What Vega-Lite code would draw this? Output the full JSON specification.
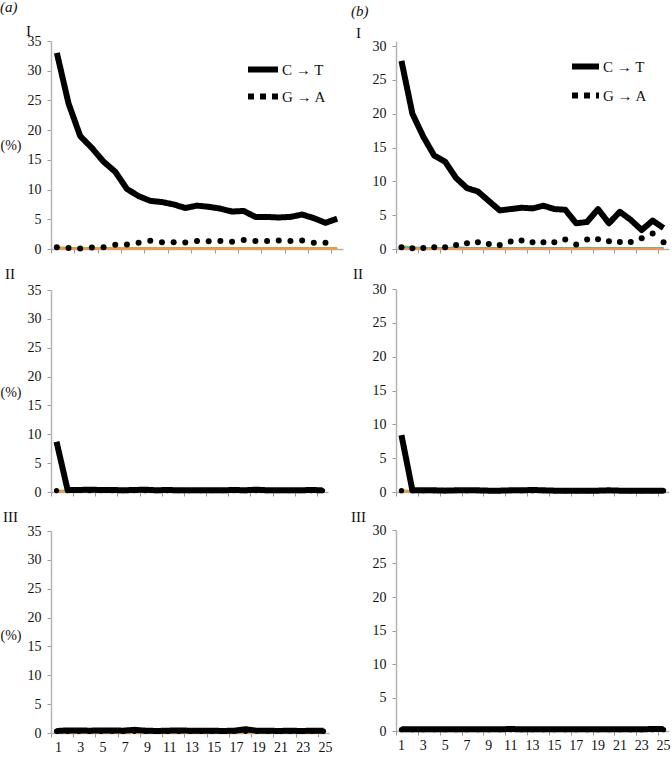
{
"$schema": "https://vega.github.io/schema/vega-lite/v6.json",
"padding": {"left": 0, "top": 0, "right": 2, "bottom": 1},
"background": "white",
"config": {
  "view": {"stroke": null},
  "style": {"guide-label": {"font": "Liberation Serif", "fill": "#111"}, "guide-title": {"font": "Liberation Serif", "fill": "#111"}, "group-title": {"font": "Liberation Serif"}},
  "axis": {"grid": false, "domainColor": "#b4b4b4", "domainWidth": 1.5, "tickColor": "#9a9a9a", "tickSize": 4, "labelFont": "Liberation Serif", "labelFontSize": 14, "labelColor": "#111", "titleFont": "Liberation Serif", "titleFontWeight": "normal", "titleFontSize": 14, "titleColor": "#111"},
  "title": {"font": "Liberation Serif", "fontWeight": "normal", "fontSize": 15, "anchor": "start", "color": "#111"},
  "legend": {"labelFont": "Liberation Serif"}
},
"data": {"values": [
{"p":"aI","s":"C → T","x":1,"y":33},{"p":"aI","s":"C → T","x":2,"y":24.5},{"p":"aI","s":"C → T","x":3,"y":19},{"p":"aI","s":"C → T","x":4,"y":17},{"p":"aI","s":"C → T","x":5,"y":14.7},{"p":"aI","s":"C → T","x":6,"y":13},{"p":"aI","s":"C → T","x":7,"y":10.1},{"p":"aI","s":"C → T","x":8,"y":8.9},{"p":"aI","s":"C → T","x":9,"y":8.1},{"p":"aI","s":"C → T","x":10,"y":7.9},{"p":"aI","s":"C → T","x":11,"y":7.5},{"p":"aI","s":"C → T","x":12,"y":6.9},{"p":"aI","s":"C → T","x":13,"y":7.3},{"p":"aI","s":"C → T","x":14,"y":7.1},{"p":"aI","s":"C → T","x":15,"y":6.8},{"p":"aI","s":"C → T","x":16,"y":6.3},{"p":"aI","s":"C → T","x":17,"y":6.4},{"p":"aI","s":"C → T","x":18,"y":5.4},{"p":"aI","s":"C → T","x":19,"y":5.4},{"p":"aI","s":"C → T","x":20,"y":5.3},{"p":"aI","s":"C → T","x":21,"y":5.4},{"p":"aI","s":"C → T","x":22,"y":5.8},{"p":"aI","s":"C → T","x":23,"y":5.2},{"p":"aI","s":"C → T","x":24,"y":4.4},{"p":"aI","s":"C → T","x":25,"y":5.1},
{"p":"aI","s":"G → A","x":1,"y":0.3},{"p":"aI","s":"G → A","x":2,"y":0.15},{"p":"aI","s":"G → A","x":3,"y":0.1},{"p":"aI","s":"G → A","x":4,"y":0.25},{"p":"aI","s":"G → A","x":5,"y":0.3},{"p":"aI","s":"G → A","x":6,"y":0.7},{"p":"aI","s":"G → A","x":7,"y":0.75},{"p":"aI","s":"G → A","x":8,"y":1.05},{"p":"aI","s":"G → A","x":9,"y":1.4},{"p":"aI","s":"G → A","x":10,"y":1.15},{"p":"aI","s":"G → A","x":11,"y":1.15},{"p":"aI","s":"G → A","x":12,"y":1.1},{"p":"aI","s":"G → A","x":13,"y":1.35},{"p":"aI","s":"G → A","x":14,"y":1.3},{"p":"aI","s":"G → A","x":15,"y":1.35},{"p":"aI","s":"G → A","x":16,"y":1.2},{"p":"aI","s":"G → A","x":17,"y":1.5},{"p":"aI","s":"G → A","x":18,"y":1.35},{"p":"aI","s":"G → A","x":19,"y":1.35},{"p":"aI","s":"G → A","x":20,"y":1.45},{"p":"aI","s":"G → A","x":21,"y":1.35},{"p":"aI","s":"G → A","x":22,"y":1.45},{"p":"aI","s":"G → A","x":23,"y":1.05},{"p":"aI","s":"G → A","x":24,"y":1.05},
{"p":"aI","s":"o1","x":1,"y":0.3},{"p":"aI","s":"o1","x":2,"y":0.2},{"p":"aI","s":"o1","x":3,"y":0.15},{"p":"aI","s":"o1","x":4,"y":0.15},{"p":"aI","s":"o1","x":5,"y":0.15},{"p":"aI","s":"o1","x":6,"y":0.15},{"p":"aI","s":"o1","x":7,"y":0.15},{"p":"aI","s":"o1","x":8,"y":0.15},{"p":"aI","s":"o1","x":9,"y":0.15},{"p":"aI","s":"o1","x":10,"y":0.15},{"p":"aI","s":"o1","x":11,"y":0.15},{"p":"aI","s":"o1","x":12,"y":0.15},{"p":"aI","s":"o1","x":13,"y":0.15},{"p":"aI","s":"o1","x":14,"y":0.15},{"p":"aI","s":"o1","x":15,"y":0.15},{"p":"aI","s":"o1","x":16,"y":0.15},{"p":"aI","s":"o1","x":17,"y":0.15},{"p":"aI","s":"o1","x":18,"y":0.15},{"p":"aI","s":"o1","x":19,"y":0.15},{"p":"aI","s":"o1","x":20,"y":0.15},{"p":"aI","s":"o1","x":21,"y":0.15},{"p":"aI","s":"o1","x":22,"y":0.15},{"p":"aI","s":"o1","x":23,"y":0.15},{"p":"aI","s":"o1","x":24,"y":0.15},{"p":"aI","s":"o1","x":25,"y":0.15},
{"p":"aI","s":"o2","x":1,"y":0.05},{"p":"aI","s":"o2","x":2,"y":0.05},{"p":"aI","s":"o2","x":3,"y":0.05},{"p":"aI","s":"o2","x":4,"y":0.05},{"p":"aI","s":"o2","x":5,"y":0.05},{"p":"aI","s":"o2","x":6,"y":0.05},{"p":"aI","s":"o2","x":7,"y":0.05},{"p":"aI","s":"o2","x":8,"y":0.05},{"p":"aI","s":"o2","x":9,"y":0.05},{"p":"aI","s":"o2","x":10,"y":0.05},{"p":"aI","s":"o2","x":11,"y":0.05},{"p":"aI","s":"o2","x":12,"y":0.05},{"p":"aI","s":"o2","x":13,"y":0.05},{"p":"aI","s":"o2","x":14,"y":0.05},{"p":"aI","s":"o2","x":15,"y":0.05},{"p":"aI","s":"o2","x":16,"y":0.05},{"p":"aI","s":"o2","x":17,"y":0.05},{"p":"aI","s":"o2","x":18,"y":0.05},{"p":"aI","s":"o2","x":19,"y":0.05},{"p":"aI","s":"o2","x":20,"y":0.05},{"p":"aI","s":"o2","x":21,"y":0.05},{"p":"aI","s":"o2","x":22,"y":0.05},{"p":"aI","s":"o2","x":23,"y":0.05},{"p":"aI","s":"o2","x":24,"y":0.05},{"p":"aI","s":"o2","x":25,"y":0.05},

{"p":"bI","s":"C → T","x":1,"y":27.8},{"p":"bI","s":"C → T","x":2,"y":20},{"p":"bI","s":"C → T","x":3,"y":16.6},{"p":"bI","s":"C → T","x":4,"y":13.8},{"p":"bI","s":"C → T","x":5,"y":12.9},{"p":"bI","s":"C → T","x":6,"y":10.5},{"p":"bI","s":"C → T","x":7,"y":9},{"p":"bI","s":"C → T","x":8,"y":8.5},{"p":"bI","s":"C → T","x":9,"y":7.1},{"p":"bI","s":"C → T","x":10,"y":5.7},{"p":"bI","s":"C → T","x":11,"y":5.9},{"p":"bI","s":"C → T","x":12,"y":6.1},{"p":"bI","s":"C → T","x":13,"y":6},{"p":"bI","s":"C → T","x":14,"y":6.4},{"p":"bI","s":"C → T","x":15,"y":5.9},{"p":"bI","s":"C → T","x":16,"y":5.8},{"p":"bI","s":"C → T","x":17,"y":3.8},{"p":"bI","s":"C → T","x":18,"y":4},{"p":"bI","s":"C → T","x":19,"y":5.9},{"p":"bI","s":"C → T","x":20,"y":3.8},{"p":"bI","s":"C → T","x":21,"y":5.5},{"p":"bI","s":"C → T","x":22,"y":4.3},{"p":"bI","s":"C → T","x":23,"y":2.8},{"p":"bI","s":"C → T","x":24,"y":4.2},{"p":"bI","s":"C → T","x":25,"y":3.1},
{"p":"bI","s":"G → A","x":1,"y":0.25},{"p":"bI","s":"G → A","x":2,"y":0.1},{"p":"bI","s":"G → A","x":3,"y":0.15},{"p":"bI","s":"G → A","x":4,"y":0.25},{"p":"bI","s":"G → A","x":5,"y":0.25},{"p":"bI","s":"G → A","x":6,"y":0.6},{"p":"bI","s":"G → A","x":7,"y":0.85},{"p":"bI","s":"G → A","x":8,"y":1},{"p":"bI","s":"G → A","x":9,"y":0.75},{"p":"bI","s":"G → A","x":10,"y":0.6},{"p":"bI","s":"G → A","x":11,"y":1.1},{"p":"bI","s":"G → A","x":12,"y":1.25},{"p":"bI","s":"G → A","x":13,"y":1},{"p":"bI","s":"G → A","x":14,"y":1},{"p":"bI","s":"G → A","x":15,"y":1},{"p":"bI","s":"G → A","x":16,"y":1.4},{"p":"bI","s":"G → A","x":17,"y":0.65},{"p":"bI","s":"G → A","x":18,"y":1.4},{"p":"bI","s":"G → A","x":19,"y":1.45},{"p":"bI","s":"G → A","x":20,"y":1.15},{"p":"bI","s":"G → A","x":21,"y":1.05},{"p":"bI","s":"G → A","x":22,"y":1.05},{"p":"bI","s":"G → A","x":23,"y":1.6},{"p":"bI","s":"G → A","x":24,"y":2.3},{"p":"bI","s":"G → A","x":25,"y":1},
{"p":"bI","s":"o1","x":1,"y":0.4},{"p":"bI","s":"o1","x":2,"y":0.25},{"p":"bI","s":"o1","x":3,"y":0.15},{"p":"bI","s":"o1","x":4,"y":0.15},{"p":"bI","s":"o1","x":5,"y":0.15},{"p":"bI","s":"o1","x":6,"y":0.2},{"p":"bI","s":"o1","x":7,"y":0.15},{"p":"bI","s":"o1","x":8,"y":0.15},{"p":"bI","s":"o1","x":9,"y":0.15},{"p":"bI","s":"o1","x":10,"y":0.15},{"p":"bI","s":"o1","x":11,"y":0.15},{"p":"bI","s":"o1","x":12,"y":0.15},{"p":"bI","s":"o1","x":13,"y":0.15},{"p":"bI","s":"o1","x":14,"y":0.15},{"p":"bI","s":"o1","x":15,"y":0.15},{"p":"bI","s":"o1","x":16,"y":0.15},{"p":"bI","s":"o1","x":17,"y":0.15},{"p":"bI","s":"o1","x":18,"y":0.2},{"p":"bI","s":"o1","x":19,"y":0.15},{"p":"bI","s":"o1","x":20,"y":0.15},{"p":"bI","s":"o1","x":21,"y":0.15},{"p":"bI","s":"o1","x":22,"y":0.15},{"p":"bI","s":"o1","x":23,"y":0.15},{"p":"bI","s":"o1","x":24,"y":0.15},{"p":"bI","s":"o1","x":25,"y":0.15},
{"p":"bI","s":"o3","x":1,"y":0.3},{"p":"bI","s":"o3","x":2,"y":0.15},{"p":"bI","s":"o3","x":3,"y":0.1},{"p":"bI","s":"o3","x":4,"y":0.1},{"p":"bI","s":"o3","x":5,"y":0.1},{"p":"bI","s":"o3","x":6,"y":0.25},{"p":"bI","s":"o3","x":7,"y":0.15},{"p":"bI","s":"o3","x":8,"y":0.1},{"p":"bI","s":"o3","x":9,"y":0.1},{"p":"bI","s":"o3","x":10,"y":0.1},{"p":"bI","s":"o3","x":11,"y":0.1},{"p":"bI","s":"o3","x":12,"y":0.1},{"p":"bI","s":"o3","x":13,"y":0.1},{"p":"bI","s":"o3","x":14,"y":0.1},{"p":"bI","s":"o3","x":15,"y":0.15},{"p":"bI","s":"o3","x":16,"y":0.1},{"p":"bI","s":"o3","x":17,"y":0.1},{"p":"bI","s":"o3","x":18,"y":0.15},{"p":"bI","s":"o3","x":19,"y":0.1},{"p":"bI","s":"o3","x":20,"y":0.1},{"p":"bI","s":"o3","x":21,"y":0.1},{"p":"bI","s":"o3","x":22,"y":0.1},{"p":"bI","s":"o3","x":23,"y":0.1},{"p":"bI","s":"o3","x":24,"y":0.1},{"p":"bI","s":"o3","x":25,"y":0.1},
{"p":"bI","s":"o2","x":1,"y":0.05},{"p":"bI","s":"o2","x":2,"y":0.05},{"p":"bI","s":"o2","x":3,"y":0.05},{"p":"bI","s":"o2","x":4,"y":0.05},{"p":"bI","s":"o2","x":5,"y":0.05},{"p":"bI","s":"o2","x":6,"y":0.05},{"p":"bI","s":"o2","x":7,"y":0.05},{"p":"bI","s":"o2","x":8,"y":0.05},{"p":"bI","s":"o2","x":9,"y":0.05},{"p":"bI","s":"o2","x":10,"y":0.05},{"p":"bI","s":"o2","x":11,"y":0.05},{"p":"bI","s":"o2","x":12,"y":0.05},{"p":"bI","s":"o2","x":13,"y":0.05},{"p":"bI","s":"o2","x":14,"y":0.05},{"p":"bI","s":"o2","x":15,"y":0.05},{"p":"bI","s":"o2","x":16,"y":0.05},{"p":"bI","s":"o2","x":17,"y":0.05},{"p":"bI","s":"o2","x":18,"y":0.05},{"p":"bI","s":"o2","x":19,"y":0.05},{"p":"bI","s":"o2","x":20,"y":0.05},{"p":"bI","s":"o2","x":21,"y":0.05},{"p":"bI","s":"o2","x":22,"y":0.05},{"p":"bI","s":"o2","x":23,"y":0.05},{"p":"bI","s":"o2","x":24,"y":0.05},{"p":"bI","s":"o2","x":25,"y":0.05},

{"p":"aII","s":"C → T","x":1,"y":8.7},{"p":"aII","s":"C → T","x":2,"y":0.35},{"p":"aII","s":"C → T","x":3,"y":0.35},{"p":"aII","s":"C → T","x":4,"y":0.4},{"p":"aII","s":"C → T","x":5,"y":0.35},{"p":"aII","s":"C → T","x":6,"y":0.35},{"p":"aII","s":"C → T","x":7,"y":0.3},{"p":"aII","s":"C → T","x":8,"y":0.35},{"p":"aII","s":"C → T","x":9,"y":0.4},{"p":"aII","s":"C → T","x":10,"y":0.3},{"p":"aII","s":"C → T","x":11,"y":0.35},{"p":"aII","s":"C → T","x":12,"y":0.3},{"p":"aII","s":"C → T","x":13,"y":0.3},{"p":"aII","s":"C → T","x":14,"y":0.3},{"p":"aII","s":"C → T","x":15,"y":0.3},{"p":"aII","s":"C → T","x":16,"y":0.3},{"p":"aII","s":"C → T","x":17,"y":0.35},{"p":"aII","s":"C → T","x":18,"y":0.3},{"p":"aII","s":"C → T","x":19,"y":0.4},{"p":"aII","s":"C → T","x":20,"y":0.3},{"p":"aII","s":"C → T","x":21,"y":0.3},{"p":"aII","s":"C → T","x":22,"y":0.3},{"p":"aII","s":"C → T","x":23,"y":0.3},{"p":"aII","s":"C → T","x":24,"y":0.35},{"p":"aII","s":"C → T","x":25,"y":0.3},
{"p":"aII","s":"G → A","x":1,"y":0.25},{"p":"aII","s":"G → A","x":2,"y":0.25},{"p":"aII","s":"G → A","x":3,"y":0.3},{"p":"aII","s":"G → A","x":4,"y":0.25},{"p":"aII","s":"G → A","x":5,"y":0.25},{"p":"aII","s":"G → A","x":6,"y":0.25},{"p":"aII","s":"G → A","x":7,"y":0.25},{"p":"aII","s":"G → A","x":8,"y":0.25},{"p":"aII","s":"G → A","x":9,"y":0.25},{"p":"aII","s":"G → A","x":10,"y":0.25},{"p":"aII","s":"G → A","x":11,"y":0.25},{"p":"aII","s":"G → A","x":12,"y":0.25},{"p":"aII","s":"G → A","x":13,"y":0.25},{"p":"aII","s":"G → A","x":14,"y":0.25},{"p":"aII","s":"G → A","x":15,"y":0.25},{"p":"aII","s":"G → A","x":16,"y":0.25},{"p":"aII","s":"G → A","x":17,"y":0.25},{"p":"aII","s":"G → A","x":18,"y":0.25},{"p":"aII","s":"G → A","x":19,"y":0.25},{"p":"aII","s":"G → A","x":20,"y":0.25},{"p":"aII","s":"G → A","x":21,"y":0.25},{"p":"aII","s":"G → A","x":22,"y":0.25},{"p":"aII","s":"G → A","x":23,"y":0.25},{"p":"aII","s":"G → A","x":24,"y":0.25},{"p":"aII","s":"G → A","x":25,"y":0.25},
{"p":"aII","s":"o1","x":1,"y":0.25},{"p":"aII","s":"o1","x":2,"y":0.2},{"p":"aII","s":"o1","x":3,"y":0.15},{"p":"aII","s":"o1","x":4,"y":0.15},{"p":"aII","s":"o1","x":5,"y":0.15},{"p":"aII","s":"o1","x":6,"y":0.15},{"p":"aII","s":"o1","x":7,"y":0.15},{"p":"aII","s":"o1","x":8,"y":0.15},{"p":"aII","s":"o1","x":9,"y":0.15},{"p":"aII","s":"o1","x":10,"y":0.15},{"p":"aII","s":"o1","x":11,"y":0.15},{"p":"aII","s":"o1","x":12,"y":0.15},{"p":"aII","s":"o1","x":13,"y":0.15},{"p":"aII","s":"o1","x":14,"y":0.15},{"p":"aII","s":"o1","x":15,"y":0.15},{"p":"aII","s":"o1","x":16,"y":0.15},{"p":"aII","s":"o1","x":17,"y":0.15},{"p":"aII","s":"o1","x":18,"y":0.15},{"p":"aII","s":"o1","x":19,"y":0.15},{"p":"aII","s":"o1","x":20,"y":0.15},{"p":"aII","s":"o1","x":21,"y":0.15},{"p":"aII","s":"o1","x":22,"y":0.15},{"p":"aII","s":"o1","x":23,"y":0.15},{"p":"aII","s":"o1","x":24,"y":0.15},{"p":"aII","s":"o1","x":25,"y":0.15},
{"p":"aII","s":"o2","x":1,"y":0.05},{"p":"aII","s":"o2","x":2,"y":0.05},{"p":"aII","s":"o2","x":3,"y":0.05},{"p":"aII","s":"o2","x":4,"y":0.05},{"p":"aII","s":"o2","x":5,"y":0.05},{"p":"aII","s":"o2","x":6,"y":0.05},{"p":"aII","s":"o2","x":7,"y":0.05},{"p":"aII","s":"o2","x":8,"y":0.05},{"p":"aII","s":"o2","x":9,"y":0.05},{"p":"aII","s":"o2","x":10,"y":0.05},{"p":"aII","s":"o2","x":11,"y":0.05},{"p":"aII","s":"o2","x":12,"y":0.05},{"p":"aII","s":"o2","x":13,"y":0.05},{"p":"aII","s":"o2","x":14,"y":0.05},{"p":"aII","s":"o2","x":15,"y":0.05},{"p":"aII","s":"o2","x":16,"y":0.05},{"p":"aII","s":"o2","x":17,"y":0.05},{"p":"aII","s":"o2","x":18,"y":0.05},{"p":"aII","s":"o2","x":19,"y":0.05},{"p":"aII","s":"o2","x":20,"y":0.05},{"p":"aII","s":"o2","x":21,"y":0.05},{"p":"aII","s":"o2","x":22,"y":0.05},{"p":"aII","s":"o2","x":23,"y":0.05},{"p":"aII","s":"o2","x":24,"y":0.05},{"p":"aII","s":"o2","x":25,"y":0.05},

{"p":"bII","s":"C → T","x":1,"y":8.4},{"p":"bII","s":"C → T","x":2,"y":0.25},{"p":"bII","s":"C → T","x":3,"y":0.25},{"p":"bII","s":"C → T","x":4,"y":0.25},{"p":"bII","s":"C → T","x":5,"y":0.2},{"p":"bII","s":"C → T","x":6,"y":0.25},{"p":"bII","s":"C → T","x":7,"y":0.25},{"p":"bII","s":"C → T","x":8,"y":0.25},{"p":"bII","s":"C → T","x":9,"y":0.2},{"p":"bII","s":"C → T","x":10,"y":0.2},{"p":"bII","s":"C → T","x":11,"y":0.25},{"p":"bII","s":"C → T","x":12,"y":0.25},{"p":"bII","s":"C → T","x":13,"y":0.3},{"p":"bII","s":"C → T","x":14,"y":0.25},{"p":"bII","s":"C → T","x":15,"y":0.2},{"p":"bII","s":"C → T","x":16,"y":0.2},{"p":"bII","s":"C → T","x":17,"y":0.2},{"p":"bII","s":"C → T","x":18,"y":0.2},{"p":"bII","s":"C → T","x":19,"y":0.2},{"p":"bII","s":"C → T","x":20,"y":0.25},{"p":"bII","s":"C → T","x":21,"y":0.2},{"p":"bII","s":"C → T","x":22,"y":0.2},{"p":"bII","s":"C → T","x":23,"y":0.2},{"p":"bII","s":"C → T","x":24,"y":0.2},{"p":"bII","s":"C → T","x":25,"y":0.2},
{"p":"bII","s":"G → A","x":1,"y":0.2},{"p":"bII","s":"G → A","x":2,"y":0.2},{"p":"bII","s":"G → A","x":3,"y":0.2},{"p":"bII","s":"G → A","x":4,"y":0.2},{"p":"bII","s":"G → A","x":5,"y":0.2},{"p":"bII","s":"G → A","x":6,"y":0.2},{"p":"bII","s":"G → A","x":7,"y":0.2},{"p":"bII","s":"G → A","x":8,"y":0.2},{"p":"bII","s":"G → A","x":9,"y":0.2},{"p":"bII","s":"G → A","x":10,"y":0.2},{"p":"bII","s":"G → A","x":11,"y":0.2},{"p":"bII","s":"G → A","x":12,"y":0.2},{"p":"bII","s":"G → A","x":13,"y":0.2},{"p":"bII","s":"G → A","x":14,"y":0.2},{"p":"bII","s":"G → A","x":15,"y":0.2},{"p":"bII","s":"G → A","x":16,"y":0.2},{"p":"bII","s":"G → A","x":17,"y":0.2},{"p":"bII","s":"G → A","x":18,"y":0.2},{"p":"bII","s":"G → A","x":19,"y":0.2},{"p":"bII","s":"G → A","x":20,"y":0.2},{"p":"bII","s":"G → A","x":21,"y":0.2},{"p":"bII","s":"G → A","x":22,"y":0.2},{"p":"bII","s":"G → A","x":23,"y":0.2},{"p":"bII","s":"G → A","x":24,"y":0.2},{"p":"bII","s":"G → A","x":25,"y":0.2},
{"p":"bII","s":"o1","x":1,"y":0.25},{"p":"bII","s":"o1","x":2,"y":0.15},{"p":"bII","s":"o1","x":3,"y":0.15},{"p":"bII","s":"o1","x":4,"y":0.15},{"p":"bII","s":"o1","x":5,"y":0.15},{"p":"bII","s":"o1","x":6,"y":0.15},{"p":"bII","s":"o1","x":7,"y":0.15},{"p":"bII","s":"o1","x":8,"y":0.15},{"p":"bII","s":"o1","x":9,"y":0.15},{"p":"bII","s":"o1","x":10,"y":0.15},{"p":"bII","s":"o1","x":11,"y":0.15},{"p":"bII","s":"o1","x":12,"y":0.15},{"p":"bII","s":"o1","x":13,"y":0.15},{"p":"bII","s":"o1","x":14,"y":0.15},{"p":"bII","s":"o1","x":15,"y":0.15},{"p":"bII","s":"o1","x":16,"y":0.15},{"p":"bII","s":"o1","x":17,"y":0.15},{"p":"bII","s":"o1","x":18,"y":0.15},{"p":"bII","s":"o1","x":19,"y":0.15},{"p":"bII","s":"o1","x":20,"y":0.15},{"p":"bII","s":"o1","x":21,"y":0.15},{"p":"bII","s":"o1","x":22,"y":0.15},{"p":"bII","s":"o1","x":23,"y":0.15},{"p":"bII","s":"o1","x":24,"y":0.15},{"p":"bII","s":"o1","x":25,"y":0.15},
{"p":"bII","s":"o2","x":1,"y":0.05},{"p":"bII","s":"o2","x":2,"y":0.05},{"p":"bII","s":"o2","x":3,"y":0.05},{"p":"bII","s":"o2","x":4,"y":0.05},{"p":"bII","s":"o2","x":5,"y":0.05},{"p":"bII","s":"o2","x":6,"y":0.05},{"p":"bII","s":"o2","x":7,"y":0.05},{"p":"bII","s":"o2","x":8,"y":0.05},{"p":"bII","s":"o2","x":9,"y":0.05},{"p":"bII","s":"o2","x":10,"y":0.05},{"p":"bII","s":"o2","x":11,"y":0.05},{"p":"bII","s":"o2","x":12,"y":0.05},{"p":"bII","s":"o2","x":13,"y":0.05},{"p":"bII","s":"o2","x":14,"y":0.05},{"p":"bII","s":"o2","x":15,"y":0.05},{"p":"bII","s":"o2","x":16,"y":0.05},{"p":"bII","s":"o2","x":17,"y":0.05},{"p":"bII","s":"o2","x":18,"y":0.05},{"p":"bII","s":"o2","x":19,"y":0.05},{"p":"bII","s":"o2","x":20,"y":0.05},{"p":"bII","s":"o2","x":21,"y":0.05},{"p":"bII","s":"o2","x":22,"y":0.05},{"p":"bII","s":"o2","x":23,"y":0.05},{"p":"bII","s":"o2","x":24,"y":0.05},{"p":"bII","s":"o2","x":25,"y":0.05},

{"p":"aIII","s":"C → T","x":1,"y":0.35},{"p":"aIII","s":"C → T","x":2,"y":0.45},{"p":"aIII","s":"C → T","x":3,"y":0.45},{"p":"aIII","s":"C → T","x":4,"y":0.4},{"p":"aIII","s":"C → T","x":5,"y":0.45},{"p":"aIII","s":"C → T","x":6,"y":0.45},{"p":"aIII","s":"C → T","x":7,"y":0.4},{"p":"aIII","s":"C → T","x":8,"y":0.55},{"p":"aIII","s":"C → T","x":9,"y":0.4},{"p":"aIII","s":"C → T","x":10,"y":0.35},{"p":"aIII","s":"C → T","x":11,"y":0.4},{"p":"aIII","s":"C → T","x":12,"y":0.45},{"p":"aIII","s":"C → T","x":13,"y":0.4},{"p":"aIII","s":"C → T","x":14,"y":0.4},{"p":"aIII","s":"C → T","x":15,"y":0.4},{"p":"aIII","s":"C → T","x":16,"y":0.35},{"p":"aIII","s":"C → T","x":17,"y":0.4},{"p":"aIII","s":"C → T","x":18,"y":0.65},{"p":"aIII","s":"C → T","x":19,"y":0.4},{"p":"aIII","s":"C → T","x":20,"y":0.4},{"p":"aIII","s":"C → T","x":21,"y":0.35},{"p":"aIII","s":"C → T","x":22,"y":0.4},{"p":"aIII","s":"C → T","x":23,"y":0.35},{"p":"aIII","s":"C → T","x":24,"y":0.4},{"p":"aIII","s":"C → T","x":25,"y":0.4},
{"p":"aIII","s":"G → A","x":1,"y":0.3},{"p":"aIII","s":"G → A","x":2,"y":0.3},{"p":"aIII","s":"G → A","x":3,"y":0.3},{"p":"aIII","s":"G → A","x":4,"y":0.3},{"p":"aIII","s":"G → A","x":5,"y":0.3},{"p":"aIII","s":"G → A","x":6,"y":0.3},{"p":"aIII","s":"G → A","x":7,"y":0.3},{"p":"aIII","s":"G → A","x":8,"y":0.3},{"p":"aIII","s":"G → A","x":9,"y":0.3},{"p":"aIII","s":"G → A","x":10,"y":0.3},{"p":"aIII","s":"G → A","x":11,"y":0.3},{"p":"aIII","s":"G → A","x":12,"y":0.3},{"p":"aIII","s":"G → A","x":13,"y":0.3},{"p":"aIII","s":"G → A","x":14,"y":0.3},{"p":"aIII","s":"G → A","x":15,"y":0.3},{"p":"aIII","s":"G → A","x":16,"y":0.3},{"p":"aIII","s":"G → A","x":17,"y":0.3},{"p":"aIII","s":"G → A","x":18,"y":0.3},{"p":"aIII","s":"G → A","x":19,"y":0.3},{"p":"aIII","s":"G → A","x":20,"y":0.3},{"p":"aIII","s":"G → A","x":21,"y":0.3},{"p":"aIII","s":"G → A","x":22,"y":0.3},{"p":"aIII","s":"G → A","x":23,"y":0.3},{"p":"aIII","s":"G → A","x":24,"y":0.3},{"p":"aIII","s":"G → A","x":25,"y":0.3},
{"p":"aIII","s":"o1","x":1,"y":0.2},{"p":"aIII","s":"o1","x":2,"y":0.15},{"p":"aIII","s":"o1","x":3,"y":0.15},{"p":"aIII","s":"o1","x":4,"y":0.15},{"p":"aIII","s":"o1","x":5,"y":0.15},{"p":"aIII","s":"o1","x":6,"y":0.15},{"p":"aIII","s":"o1","x":7,"y":0.15},{"p":"aIII","s":"o1","x":8,"y":0.15},{"p":"aIII","s":"o1","x":9,"y":0.15},{"p":"aIII","s":"o1","x":10,"y":0.15},{"p":"aIII","s":"o1","x":11,"y":0.15},{"p":"aIII","s":"o1","x":12,"y":0.15},{"p":"aIII","s":"o1","x":13,"y":0.15},{"p":"aIII","s":"o1","x":14,"y":0.15},{"p":"aIII","s":"o1","x":15,"y":0.15},{"p":"aIII","s":"o1","x":16,"y":0.15},{"p":"aIII","s":"o1","x":17,"y":0.15},{"p":"aIII","s":"o1","x":18,"y":0.15},{"p":"aIII","s":"o1","x":19,"y":0.15},{"p":"aIII","s":"o1","x":20,"y":0.15},{"p":"aIII","s":"o1","x":21,"y":0.15},{"p":"aIII","s":"o1","x":22,"y":0.15},{"p":"aIII","s":"o1","x":23,"y":0.15},{"p":"aIII","s":"o1","x":24,"y":0.15},{"p":"aIII","s":"o1","x":25,"y":0.15},
{"p":"aIII","s":"o2","x":1,"y":0.05},{"p":"aIII","s":"o2","x":2,"y":0.05},{"p":"aIII","s":"o2","x":3,"y":0.05},{"p":"aIII","s":"o2","x":4,"y":0.05},{"p":"aIII","s":"o2","x":5,"y":0.05},{"p":"aIII","s":"o2","x":6,"y":0.05},{"p":"aIII","s":"o2","x":7,"y":0.05},{"p":"aIII","s":"o2","x":8,"y":0.05},{"p":"aIII","s":"o2","x":9,"y":0.05},{"p":"aIII","s":"o2","x":10,"y":0.05},{"p":"aIII","s":"o2","x":11,"y":0.05},{"p":"aIII","s":"o2","x":12,"y":0.05},{"p":"aIII","s":"o2","x":13,"y":0.05},{"p":"aIII","s":"o2","x":14,"y":0.05},{"p":"aIII","s":"o2","x":15,"y":0.05},{"p":"aIII","s":"o2","x":16,"y":0.05},{"p":"aIII","s":"o2","x":17,"y":0.05},{"p":"aIII","s":"o2","x":18,"y":0.05},{"p":"aIII","s":"o2","x":19,"y":0.05},{"p":"aIII","s":"o2","x":20,"y":0.05},{"p":"aIII","s":"o2","x":21,"y":0.05},{"p":"aIII","s":"o2","x":22,"y":0.05},{"p":"aIII","s":"o2","x":23,"y":0.05},{"p":"aIII","s":"o2","x":24,"y":0.05},{"p":"aIII","s":"o2","x":25,"y":0.05},

{"p":"bIII","s":"C → T","x":1,"y":0.25},{"p":"bIII","s":"C → T","x":2,"y":0.25},{"p":"bIII","s":"C → T","x":3,"y":0.25},{"p":"bIII","s":"C → T","x":4,"y":0.25},{"p":"bIII","s":"C → T","x":5,"y":0.25},{"p":"bIII","s":"C → T","x":6,"y":0.25},{"p":"bIII","s":"C → T","x":7,"y":0.25},{"p":"bIII","s":"C → T","x":8,"y":0.25},{"p":"bIII","s":"C → T","x":9,"y":0.25},{"p":"bIII","s":"C → T","x":10,"y":0.25},{"p":"bIII","s":"C → T","x":11,"y":0.3},{"p":"bIII","s":"C → T","x":12,"y":0.25},{"p":"bIII","s":"C → T","x":13,"y":0.25},{"p":"bIII","s":"C → T","x":14,"y":0.25},{"p":"bIII","s":"C → T","x":15,"y":0.25},{"p":"bIII","s":"C → T","x":16,"y":0.25},{"p":"bIII","s":"C → T","x":17,"y":0.25},{"p":"bIII","s":"C → T","x":18,"y":0.25},{"p":"bIII","s":"C → T","x":19,"y":0.25},{"p":"bIII","s":"C → T","x":20,"y":0.25},{"p":"bIII","s":"C → T","x":21,"y":0.25},{"p":"bIII","s":"C → T","x":22,"y":0.25},{"p":"bIII","s":"C → T","x":23,"y":0.25},{"p":"bIII","s":"C → T","x":24,"y":0.3},{"p":"bIII","s":"C → T","x":25,"y":0.3},
{"p":"bIII","s":"G → A","x":1,"y":0.2},{"p":"bIII","s":"G → A","x":2,"y":0.2},{"p":"bIII","s":"G → A","x":3,"y":0.2},{"p":"bIII","s":"G → A","x":4,"y":0.2},{"p":"bIII","s":"G → A","x":5,"y":0.2},{"p":"bIII","s":"G → A","x":6,"y":0.2},{"p":"bIII","s":"G → A","x":7,"y":0.2},{"p":"bIII","s":"G → A","x":8,"y":0.2},{"p":"bIII","s":"G → A","x":9,"y":0.2},{"p":"bIII","s":"G → A","x":10,"y":0.2},{"p":"bIII","s":"G → A","x":11,"y":0.2},{"p":"bIII","s":"G → A","x":12,"y":0.2},{"p":"bIII","s":"G → A","x":13,"y":0.2},{"p":"bIII","s":"G → A","x":14,"y":0.2},{"p":"bIII","s":"G → A","x":15,"y":0.2},{"p":"bIII","s":"G → A","x":16,"y":0.2},{"p":"bIII","s":"G → A","x":17,"y":0.2},{"p":"bIII","s":"G → A","x":18,"y":0.2},{"p":"bIII","s":"G → A","x":19,"y":0.2},{"p":"bIII","s":"G → A","x":20,"y":0.2},{"p":"bIII","s":"G → A","x":21,"y":0.2},{"p":"bIII","s":"G → A","x":22,"y":0.2},{"p":"bIII","s":"G → A","x":23,"y":0.2},{"p":"bIII","s":"G → A","x":24,"y":0.2},{"p":"bIII","s":"G → A","x":25,"y":0.2},
{"p":"bIII","s":"o1","x":1,"y":0.15},{"p":"bIII","s":"o1","x":2,"y":0.15},{"p":"bIII","s":"o1","x":3,"y":0.15},{"p":"bIII","s":"o1","x":4,"y":0.15},{"p":"bIII","s":"o1","x":5,"y":0.15},{"p":"bIII","s":"o1","x":6,"y":0.15},{"p":"bIII","s":"o1","x":7,"y":0.15},{"p":"bIII","s":"o1","x":8,"y":0.15},{"p":"bIII","s":"o1","x":9,"y":0.15},{"p":"bIII","s":"o1","x":10,"y":0.15},{"p":"bIII","s":"o1","x":11,"y":0.15},{"p":"bIII","s":"o1","x":12,"y":0.15},{"p":"bIII","s":"o1","x":13,"y":0.15},{"p":"bIII","s":"o1","x":14,"y":0.15},{"p":"bIII","s":"o1","x":15,"y":0.15},{"p":"bIII","s":"o1","x":16,"y":0.15},{"p":"bIII","s":"o1","x":17,"y":0.15},{"p":"bIII","s":"o1","x":18,"y":0.15},{"p":"bIII","s":"o1","x":19,"y":0.15},{"p":"bIII","s":"o1","x":20,"y":0.15},{"p":"bIII","s":"o1","x":21,"y":0.15},{"p":"bIII","s":"o1","x":22,"y":0.15},{"p":"bIII","s":"o1","x":23,"y":0.15},{"p":"bIII","s":"o1","x":24,"y":0.15},{"p":"bIII","s":"o1","x":25,"y":0.15},
{"p":"bIII","s":"o2","x":1,"y":0.05},{"p":"bIII","s":"o2","x":2,"y":0.05},{"p":"bIII","s":"o2","x":3,"y":0.05},{"p":"bIII","s":"o2","x":4,"y":0.05},{"p":"bIII","s":"o2","x":5,"y":0.05},{"p":"bIII","s":"o2","x":6,"y":0.05},{"p":"bIII","s":"o2","x":7,"y":0.05},{"p":"bIII","s":"o2","x":8,"y":0.05},{"p":"bIII","s":"o2","x":9,"y":0.05},{"p":"bIII","s":"o2","x":10,"y":0.05},{"p":"bIII","s":"o2","x":11,"y":0.05},{"p":"bIII","s":"o2","x":12,"y":0.05},{"p":"bIII","s":"o2","x":13,"y":0.05},{"p":"bIII","s":"o2","x":14,"y":0.05},{"p":"bIII","s":"o2","x":15,"y":0.05},{"p":"bIII","s":"o2","x":16,"y":0.05},{"p":"bIII","s":"o2","x":17,"y":0.05},{"p":"bIII","s":"o2","x":18,"y":0.05},{"p":"bIII","s":"o2","x":19,"y":0.05},{"p":"bIII","s":"o2","x":20,"y":0.05},{"p":"bIII","s":"o2","x":21,"y":0.05},{"p":"bIII","s":"o2","x":22,"y":0.05},{"p":"bIII","s":"o2","x":23,"y":0.05},{"p":"bIII","s":"o2","x":24,"y":0.05},{"p":"bIII","s":"o2","x":25,"y":0.05}
]},
"spacing": 8,
"resolve": {"scale": {"strokeDash": "independent", "color": "independent"}, "legend": {"strokeDash": "independent", "color": "independent"}},
"hconcat": [
 {
  "title": {"text": "(a)", "fontStyle": "italic", "offset": 9},
  "spacing": 11,
  "resolve": {"scale": {"strokeDash": "independent", "color": "independent"}, "legend": {"strokeDash": "independent", "color": "independent"}},
  "vconcat": [
   {
    "width": 292, "height": 208,
    "title": {"text": "I", "dx": -25, "offset": -5, "frame": "group"},
    "transform": [{"filter": "datum.p == 'aI'"}],
    "encoding": {
      "x": {"field": "x", "type": "quantitative", "scale": {"domain": [0.5, 25.5], "nice": false, "zero": false}, "axis": {"title": null, "values": [0.5,2.5,4.5,6.5,8.5,10.5,12.5,14.5,16.5,18.5,20.5,22.5,24.5], "labels": false}},
      "y": {"field": "y", "type": "quantitative", "scale": {"domain": [0, 35], "nice": false}, "axis": {"values": [0,5,10,15,20,25,30,35], "labelFont": "Liberation Serif", "labelFontSize": 14, "labelPadding": 6, "title": "(%)", "titleFont": "Liberation Serif", "titleFontSize": 14, "titleFontWeight": "normal", "titleAngle": 0, "titleAlign": "left", "titleBaseline": "middle", "titleX": -51, "titleY": 104}}
    },
    "layer": [
     {"transform": [{"filter": "datum.s == 'o1' || datum.s == 'o2' || datum.s == 'o3'"}], "mark": {"type": "line", "strokeWidth": 2}, "encoding": {"color": {"field": "s", "type": "nominal", "scale": {"domain": ["o1","o3","o2"], "range": ["#9BBB59","#4BACC6","#F79646"]}, "legend": null}}},
     {"transform": [{"filter": "datum.s == 'C → T'"}], "mark": {"type": "line", "strokeWidth": 6, "color": "black", "strokeJoin": "round"}, "encoding": {"strokeDash": {"field": "s", "type": "nominal", "scale": {"domain": ["C → T", "G → A"], "range": [[1,0],[6,6]]}, "legend": {"orient": "none", "legendX": 194, "legendY": 15, "title": null, "symbolType": "stroke", "symbolStrokeWidth": 6, "symbolSize": 900, "symbolStrokeColor": "black", "labelFont": "Liberation Serif", "labelFontSize": 15, "labelColor": "#111", "labelOffset": 1, "rowPadding": 0, "clipHeight": 27}}}},
     {"transform": [{"filter": "datum.s == 'G → A'"}], "mark": {"type": "circle", "size": 36, "color": "black", "opacity": 1}}
    ]
   },
   {
    "width": 277, "height": 202,
    "title": {"text": "II", "dx": -46, "offset": 1, "frame": "group"},
    "transform": [{"filter": "datum.p == 'aII'"}],
    "encoding": {
      "x": {"field": "x", "type": "quantitative", "scale": {"domain": [0.5, 25.5], "nice": false, "zero": false}, "axis": {"title": null, "values": [0.5,2.5,4.5,6.5,8.5,10.5,12.5,14.5,16.5,18.5,20.5,22.5,24.5], "labels": false}},
      "y": {"field": "y", "type": "quantitative", "scale": {"domain": [0, 35], "nice": false}, "axis": {"values": [0,5,10,15,20,25,30,35], "labelFont": "Liberation Serif", "labelFontSize": 14, "labelPadding": 6, "title": "(%)", "titleFont": "Liberation Serif", "titleFontSize": 14, "titleFontWeight": "normal", "titleAngle": 0, "titleAlign": "left", "titleBaseline": "middle", "titleX": -51, "titleY": 102}}
    },
    "layer": [
     {"transform": [{"filter": "datum.s == 'o1' || datum.s == 'o2'"}], "mark": {"type": "line", "strokeWidth": 2}, "encoding": {"color": {"field": "s", "type": "nominal", "scale": {"domain": ["o1","o3","o2"], "range": ["#9BBB59","#4BACC6","#F79646"]}, "legend": null}}},
     {"transform": [{"filter": "datum.s == 'C → T'"}], "mark": {"type": "line", "strokeWidth": 6, "color": "black", "strokeJoin": "round"}, "encoding": {"strokeDash": {"field": "s", "type": "nominal", "scale": {"domain": ["C → T", "G → A"], "range": [[1,0],[6,6]]}, "legend": null}}},
     {"transform": [{"filter": "datum.s == 'G → A'"}], "mark": {"type": "circle", "size": 28, "color": "black", "opacity": 1}}
    ]
   },
   {
    "width": 278, "height": 202,
    "title": {"text": "III", "dx": -48, "offset": -1, "frame": "group"},
    "transform": [{"filter": "datum.p == 'aIII'"}],
    "encoding": {
      "x": {"field": "x", "type": "quantitative", "scale": {"domain": [0.5, 25.5], "nice": false, "zero": false}, "axis": {"title": null, "values": [0.5,2.5,4.5,6.5,8.5,10.5,12.5,14.5,16.5,18.5,20.5,22.5,24.5], "labelExpr": "datum.value + 0.5", "labelFont": "Liberation Serif", "labelFontSize": 14, "labelOffset": 7, "labelPadding": 3, "labelFlush": false, "labelOverlap": false}},
      "y": {"field": "y", "type": "quantitative", "scale": {"domain": [0, 35], "nice": false}, "axis": {"values": [0,5,10,15,20,25,30,35], "labelFont": "Liberation Serif", "labelFontSize": 14, "labelPadding": 6, "title": "(%)", "titleFont": "Liberation Serif", "titleFontSize": 14, "titleFontWeight": "normal", "titleAngle": 0, "titleAlign": "left", "titleBaseline": "middle", "titleX": -51, "titleY": 104}}
    },
    "layer": [
     {"transform": [{"filter": "datum.s == 'o1' || datum.s == 'o2'"}], "mark": {"type": "line", "strokeWidth": 2}, "encoding": {"color": {"field": "s", "type": "nominal", "scale": {"domain": ["o1","o3","o2"], "range": ["#9BBB59","#4BACC6","#F79646"]}, "legend": null}}},
     {"transform": [{"filter": "datum.s == 'C → T'"}], "mark": {"type": "line", "strokeWidth": 6, "color": "black", "strokeJoin": "round"}, "encoding": {"strokeDash": {"field": "s", "type": "nominal", "scale": {"domain": ["C → T", "G → A"], "range": [[1,0],[6,6]]}, "legend": null}}},
     {"transform": [{"filter": "datum.s == 'G → A'"}], "mark": {"type": "circle", "size": 28, "color": "black", "opacity": 1}}
    ]
   }
  ]
 },
 {
  "title": {"text": "(b)", "fontStyle": "italic", "offset": 7},
  "spacing": 11,
  "resolve": {"scale": {"strokeDash": "independent", "color": "independent"}, "legend": {"strokeDash": "independent", "color": "independent"}},
  "vconcat": [
   {
    "width": 273, "height": 208,
    "title": {"text": "I", "dx": -40, "offset": -2, "frame": "group"},
    "transform": [{"filter": "datum.p == 'bI'"}],
    "encoding": {
      "x": {"field": "x", "type": "quantitative", "scale": {"domain": [0.5, 25.5], "nice": false, "zero": false}, "axis": {"title": null, "values": [0.5,2.5,4.5,6.5,8.5,10.5,12.5,14.5,16.5,18.5,20.5,22.5,24.5], "labels": false}},
      "y": {"field": "y", "type": "quantitative", "scale": {"domain": [0, 30.74], "nice": false}, "axis": {"values": [0,5,10,15,20,25,30], "labelFont": "Liberation Serif", "labelFontSize": 14, "labelPadding": 6, "title": null}}
    },
    "layer": [
     {"transform": [{"filter": "datum.s == 'o1' || datum.s == 'o2' || datum.s == 'o3'"}], "mark": {"type": "line", "strokeWidth": 2}, "encoding": {"color": {"field": "s", "type": "nominal", "scale": {"domain": ["o1","o3","o2"], "range": ["#9BBB59","#4BACC6","#F79646"]}, "legend": null}}},
     {"transform": [{"filter": "datum.s == 'C → T'"}], "mark": {"type": "line", "strokeWidth": 6, "color": "black", "strokeJoin": "round"}, "encoding": {"strokeDash": {"field": "s", "type": "nominal", "scale": {"domain": ["C → T", "G → A"], "range": [[1,0],[6,6]]}, "legend": {"orient": "none", "legendX": 173, "legendY": 11, "title": null, "symbolType": "stroke", "symbolStrokeWidth": 6, "symbolSize": 729, "symbolStrokeColor": "black", "labelFont": "Liberation Serif", "labelFontSize": 15, "labelColor": "#111", "labelOffset": 1, "rowPadding": 0, "clipHeight": 29}}}},
     {"transform": [{"filter": "datum.s == 'G → A'"}], "mark": {"type": "circle", "size": 36, "color": "black", "opacity": 1}}
    ]
   },
   {
    "width": 273, "height": 203,
    "title": {"text": "II", "dx": -43, "offset": 0, "frame": "group"},
    "transform": [{"filter": "datum.p == 'bII'"}],
    "encoding": {
      "x": {"field": "x", "type": "quantitative", "scale": {"domain": [0.5, 25.5], "nice": false, "zero": false}, "axis": {"title": null, "values": [0.5,2.5,4.5,6.5,8.5,10.5,12.5,14.5,16.5,18.5,20.5,22.5,24.5], "labels": false}},
      "y": {"field": "y", "type": "quantitative", "scale": {"domain": [0, 30], "nice": false}, "axis": {"values": [0,5,10,15,20,25,30], "labelFont": "Liberation Serif", "labelFontSize": 14, "labelPadding": 6, "title": null}}
    },
    "layer": [
     {"transform": [{"filter": "datum.s == 'o1' || datum.s == 'o2'"}], "mark": {"type": "line", "strokeWidth": 2}, "encoding": {"color": {"field": "s", "type": "nominal", "scale": {"domain": ["o1","o3","o2"], "range": ["#9BBB59","#4BACC6","#F79646"]}, "legend": null}}},
     {"transform": [{"filter": "datum.s == 'C → T'"}], "mark": {"type": "line", "strokeWidth": 6, "color": "black", "strokeJoin": "round"}, "encoding": {"strokeDash": {"field": "s", "type": "nominal", "scale": {"domain": ["C → T", "G → A"], "range": [[1,0],[6,6]]}, "legend": null}}},
     {"transform": [{"filter": "datum.s == 'G → A'"}], "mark": {"type": "circle", "size": 28, "color": "black", "opacity": 1}}
    ]
   },
   {
    "width": 273, "height": 201,
    "title": {"text": "III", "dx": -45, "offset": -2, "frame": "group"},
    "transform": [{"filter": "datum.p == 'bIII'"}],
    "encoding": {
      "x": {"field": "x", "type": "quantitative", "scale": {"domain": [0.5, 25.5], "nice": false, "zero": false}, "axis": {"title": null, "values": [0.5,2.5,4.5,6.5,8.5,10.5,12.5,14.5,16.5,18.5,20.5,22.5,24.5], "labelExpr": "datum.value + 0.5", "labelFont": "Liberation Serif", "labelFontSize": 14, "labelOffset": 5, "labelPadding": 3, "labelFlush": false, "labelOverlap": false}},
      "y": {"field": "y", "type": "quantitative", "scale": {"domain": [0, 30], "nice": false}, "axis": {"values": [0,5,10,15,20,25,30], "labelFont": "Liberation Serif", "labelFontSize": 14, "labelPadding": 6, "title": null}}
    },
    "layer": [
     {"transform": [{"filter": "datum.s == 'o1' || datum.s == 'o2'"}], "mark": {"type": "line", "strokeWidth": 2}, "encoding": {"color": {"field": "s", "type": "nominal", "scale": {"domain": ["o1","o3","o2"], "range": ["#9BBB59","#4BACC6","#F79646"]}, "legend": null}}},
     {"transform": [{"filter": "datum.s == 'C → T'"}], "mark": {"type": "line", "strokeWidth": 6, "color": "black", "strokeJoin": "round"}, "encoding": {"strokeDash": {"field": "s", "type": "nominal", "scale": {"domain": ["C → T", "G → A"], "range": [[1,0],[6,6]]}, "legend": null}}},
     {"transform": [{"filter": "datum.s == 'G → A'"}], "mark": {"type": "circle", "size": 28, "color": "black", "opacity": 1}}
    ]
   }
  ]
 }
]
}
